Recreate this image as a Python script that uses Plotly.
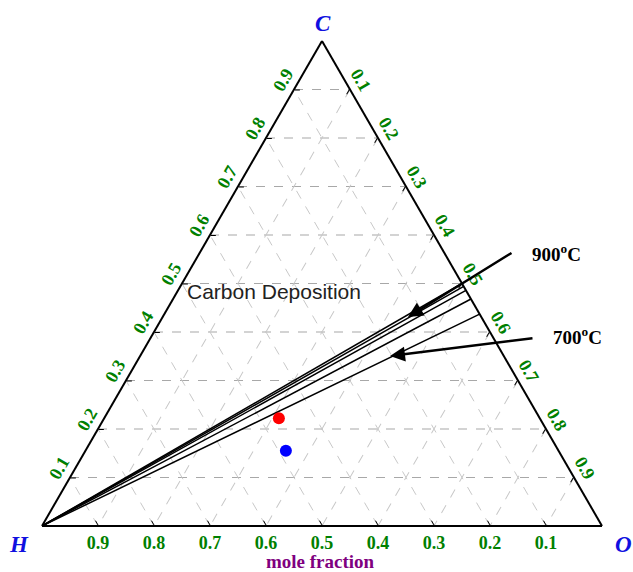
import plotly.graph_objects as go

# Carbon deposition boundary lines: from pure H corner to the C-O edge
temps = ["900", "850", "800", "750", "700"]
line_C_start = [0.0, 0.0, 0.0, 0.0, 0.0]
line_H_start = [1.0, 1.0, 1.0, 1.0, 1.0]
line_O_start = [0.0, 0.0, 0.0, 0.0, 0.0]
line_O_end = [0.500, 0.506, 0.514, 0.532, 0.563]
line_C_end = [0.500, 0.494, 0.486, 0.468, 0.437]
line_H_end = [0.0, 0.0, 0.0, 0.0, 0.0]

# Feed composition points (C, H, O)
pt_C = [0.222, 0.155]
pt_H = [0.466, 0.487]
pt_O = [0.312, 0.358]
pt_colors = ["#ff0000", "#0000ff"]

tick_vals = [0.1, 0.2, 0.3, 0.4, 0.5, 0.6, 0.7, 0.8, 0.9]
tick_text = ["0.1", "0.2", "0.3", "0.4", "0.5", "0.6", "0.7", "0.8", "0.9"]

fig = go.Figure()
for i, t in enumerate(temps):
    fig.add_trace(go.Scatterternary(
        a=[line_C_start[i], line_C_end[i]],
        b=[line_H_start[i], line_H_end[i]],
        c=[line_O_start[i], line_O_end[i]],
        mode="lines",
        line=dict(color="black", width=1.5),
        name=t + "°C",
        showlegend=False,
    ))

fig.add_trace(go.Scatterternary(
    a=pt_C, b=pt_H, c=pt_O,
    mode="markers",
    marker=dict(color=pt_colors, size=12),
    showlegend=False,
))

tickfont = dict(family="Liberation Serif", size=18, color="#008000", weight="bold")

def axis(gridcolor, angle):
    return dict(
        tickmode="array", tickvals=tick_vals, ticktext=tick_text,
        tickfont=tickfont, tickangle=angle,
        ticks="inside", ticklen=5, tickcolor="black",
        linecolor="black", linewidth=2,
        showgrid=True, gridcolor=gridcolor, gridwidth=1, griddash="dash",
        title=dict(text=""),
    )

fig.update_layout(
    width=633, height=572,
    margin=dict(l=42, r=31, t=41, b=46),
    paper_bgcolor="white",
    ternary=dict(
        sum=1,
        bgcolor="white",
        aaxis=axis("#a8a8a8", -60),
        baxis=axis("#c8c8c8", 0),
        caxis=axis("#c8c8c8", 60),
    ),
    showlegend=False,
)

vfont = dict(family="Liberation Serif", size=23, color="#1010e0")
ann = [
    dict(x=0.5018, y=1.0371, text="<b><i>C</i></b>", font=vfont),
    dict(x=-0.041, y=-0.039, text="<b><i>H</i></b>", font=vfont),
    dict(x=1.039, y=-0.039, text="<b><i>O</i></b>", font=vfont),
    dict(x=0.498, y=-0.0735, text="<b>mole fraction</b>",
         font=dict(family="Liberation Serif", size=19, color="#800080")),
    dict(x=0.4143, y=0.4845, text="Carbon Deposition",
         font=dict(family="Liberation Sans", size=21, color="#222222")),
    dict(x=0.9179, y=0.5629, text="<b>900<sup>o</sup>C</b>",
         font=dict(family="Liberation Serif", size=19, color="black")),
    dict(x=0.9554, y=0.3918, text="<b>700<sup>o</sup>C</b>",
         font=dict(family="Liberation Serif", size=19, color="black")),
]
for a in ann:
    a["showarrow"] = False
    a["xref"] = "paper"
    a["yref"] = "paper"
    a["xanchor"] = "center"
    a["yanchor"] = "middle"
    fig.add_annotation(**a)

arrows = [
    dict(x=0.6536, y=0.4309, ax=105, ay=-65),
    dict(x=0.6214, y=0.3505, ax=144, ay=-18),
]
for a in arrows:
    fig.add_annotation(xref="paper", yref="paper", text="", showarrow=True,
                       arrowhead=2, arrowsize=1.2, arrowwidth=2.5,
                       arrowcolor="black", **a)

fig.write_html("out.html")
